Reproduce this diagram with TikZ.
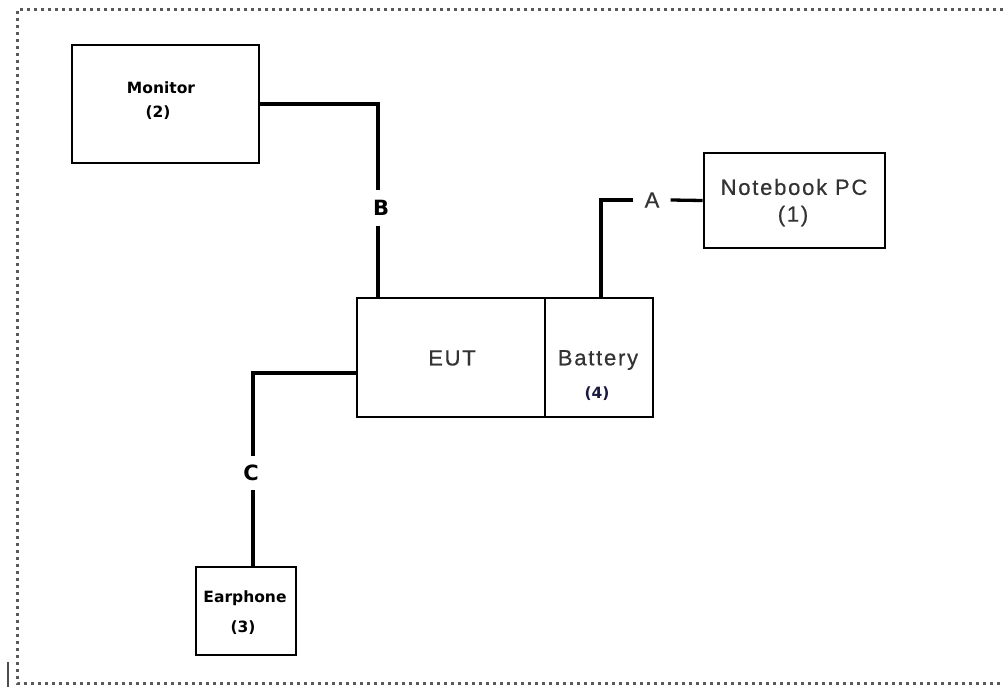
\documentclass[tikz,border=0pt]{standalone}
\usepackage{fontspec}
\newfontfamily\dvb{DejaVu Sans}
\newfontfamily\lsf{Liberation Sans}[LetterSpace=8,FakeBold=0.5]
\usetikzlibrary{calc}
\definecolor{txtgray}{HTML}{333333}
\definecolor{navytxt}{HTML}{1A1A40}
\begin{document}
\begin{tikzpicture}[x=1pt,y=-1pt,
  box/.style={draw=black,line width=2.8pt,rectangle,inner sep=0pt},
  wire/.style={line width=3.3pt,black},
  vlab/.style={font=\dvb\bfseries\fontsize{15.5}{18}\selectfont,inner sep=0pt,text=black},
  alab/.style={font=\lsf\fontsize{22}{26}\selectfont,inner sep=0pt,text=txtgray},
  conlab/.style={font=\dvb\bfseries\fontsize{21}{24}\selectfont,inner sep=0pt,text=black},
  border/.style={line width=3pt,gray!70!black,dash pattern=on 3pt off 4pt}]
\useasboundingbox (0,0) rectangle (1003,687);
\fill[white] (0,0) rectangle (1003,687);
% dotted frame
\draw[border] (1003,10) -- (17,10) -- (17,683) -- (1003,683);
\draw[line width=2.4pt,black!70] (8,662) -- (8,687);
% boxes
\node[box,minimum width=187pt,minimum height=118pt] (mon) at (165.5,104) {};
\node[box,minimum width=181pt,minimum height=95pt] (nb) at (794.5,200.5) {};
\node[box,minimum width=188pt,minimum height=119pt] (eut) at (451,357.5) {};
\node[box,minimum width=108pt,minimum height=119pt] (bat) at (599,357.5) {};
\node[box,minimum width=100pt,minimum height=88pt] (ear) at (246,611) {};
% texts
\node[vlab] (monT) at (161,88) {Monitor};
\node[vlab] (monN) at (158,113) {(2)};
\node[alab] (nbT) at (794,187) {Notebook PC};
\node[alab] (nbN) at (793,216) {(1)};
\node[alab] (eutT) at (452,358) {EUT};
\node[alab] (batT) at (598,360) {Battery};
\node[vlab,text=navytxt] (batN) at (597,394) {(4)};
\node[vlab] (earT) at (245,598) {Earphone};
\node[vlab] (earN) at (243,628) {(3)};
% connector labels
\node[conlab,minimum height=35pt] (B) at (381,208) {B};
\node[alab,minimum width=37pt] (A) at (652,200) {A};
\node[conlab,minimum height=34pt] (C) at (251,473) {C};
\coordinate (cj) at (253,373);
% connectors
\draw[wire] (mon.east) -| (B.north -| 378,0);
\draw[wire] (B.south -| 378,0) -- (eut.north -| 378,0);
\draw[wire] (nb.west) -- (A.east);
\draw[wire] (A.west) -| (bat.north -| 601,0);
\draw[wire] (eut.west |- cj) -- (cj) -- (C.north -| cj);
\draw[wire] (C.south -| cj) -- (ear.north -| cj);
\end{tikzpicture}
\end{document}
